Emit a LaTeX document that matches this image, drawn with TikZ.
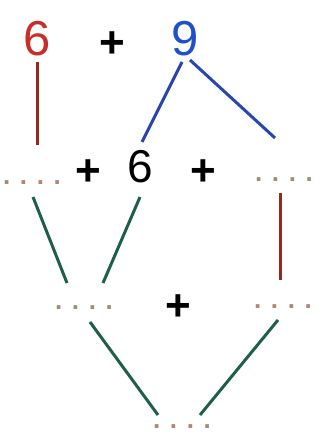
\documentclass[tikz,border=0pt]{standalone}
\usepackage{fontspec}
\setmainfont{Liberation Sans}
\usetikzlibrary{calc}
\definecolor{redtxt}{RGB}{200,45,40}
\definecolor{bluetxt}{RGB}{30,80,200}
\definecolor{redln}{RGB}{150,40,30}
\definecolor{blueln}{RGB}{40,70,175}
\definecolor{greenln}{RGB}{30,95,75}
\definecolor{dotc}{RGB}{175,135,110}
\tikzset{
  big/.style={inner sep=0pt, anchor=base, font=\fontsize{49}{49}\selectfont},
  mid/.style={inner sep=0pt, anchor=base, font=\fontsize{46}{46}\selectfont},
  plus/.style={inner sep=0pt, font=\bfseries\fontsize{44}{44}\selectfont},
  blank/.style={inner sep=0pt, anchor=base, text=dotc, font=\bfseries\fontsize{26}{26}\selectfont},
  ln/.style={line width=3pt}
}
\begin{document}
\begin{tikzpicture}[x=1pt,y=-1pt]
\useasboundingbox (0,0) rectangle (321,435);
\node[big, text=redtxt] (six1) at (37,56) {6};
\node[plus] (plus1) at (112,45) {+};
\node[big, text=bluetxt] (nine) at (185,56) {9};
\node[blank] (dotsA) at (32,185) {. . . .};
\node[plus] (plus2) at (88,173) {+};
\node[mid] (six2) at (140,183) {6};
\node[plus] (plus3) at (203,173) {+};
\node[blank] (dotsB) at (284,182) {. . . .};
\node[blank] (dotsC) at (84,309) {. . . .};
\node[plus] (plus4) at (178,308) {+};
\node[blank] (dotsD) at (283,308) {. . . .};
\node[blank] (dotsE) at (182,428) {. . . .};
\draw[ln, redln] ($(six1.base)+(0,6)$) -- ($(six1.base)+(0,89)$);
\draw[ln, blueln] ($(nine.base)+(-3,6)$) -- ($(six2.base)+(2,-41)$);
\draw[ln, blueln] ($(nine.base)+(5,4)$) -- ($(dotsB.base)+(-9,-44)$);
\draw[ln, greenln] ($(dotsA.base)+(1,12)$) -- ($(dotsC.base)+(-17,-26)$);
\draw[ln, greenln] ($(six2.base)+(0,14)$) -- ($(dotsC.base)+(19,-26)$);
\draw[ln, redln] ($(dotsB.base)+(-4,11)$) -- ($(dotsD.base)+(-3,-28)$);
\draw[ln, greenln] ($(dotsC.base)+(6,13)$) -- ($(dotsE.base)+(-24,-13)$);
\draw[ln, greenln] ($(dotsD.base)+(-5,12)$) -- ($(dotsE.base)+(18,-13)$);
\end{tikzpicture}
\end{document}
